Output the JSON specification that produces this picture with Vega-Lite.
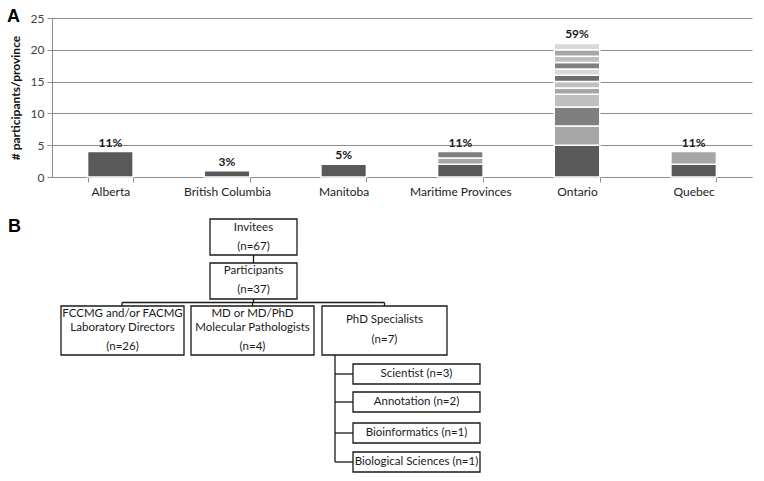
{
  "$schema": "https://vega.github.io/schema/vega-lite/v6.json",
  "background": "white",
  "padding": {"left": 7, "top": 8, "right": 5, "bottom": 0},
  "config": {
    "font": "Lato",
    "view": {"stroke": null},
    "axisY": {
      "values": [0, 5, 10, 15, 20, 25], "tickCount": 6,
      "grid": true, "gridColor": "#8c8c8c", "gridWidth": 1,
      "domainColor": "#8c8c8c", "tickColor": "#8c8c8c", "tickSize": 5,
      "labelFontSize": 12, "labelColor": "#404040", "labelPadding": 3,
      "titleFontWeight": "bold", "titleFontSize": 12, "titleColor": "#111111", "titlePadding": 8
    }
  },
  "spacing": 23,
  "bounds": "flush",
  "resolve": {"scale": {"x": "independent", "y": "independent", "color": "independent"}},
  "datasets": {
    "participants": [
      {"province": "Alberta", "site": 1, "n": 4, "pct": "11%"},
      {"province": "British Columbia", "site": 1, "n": 1, "pct": "3%"},
      {"province": "Manitoba", "site": 1, "n": 2, "pct": "5%"},
      {"province": "Maritime Provinces", "site": 1, "n": 2, "pct": "11%"},
      {"province": "Maritime Provinces", "site": 2, "n": 1, "pct": "11%"},
      {"province": "Maritime Provinces", "site": 3, "n": 1, "pct": "11%"},
      {"province": "Ontario", "site": 1, "n": 5, "pct": "59%"},
      {"province": "Ontario", "site": 2, "n": 3, "pct": "59%"},
      {"province": "Ontario", "site": 3, "n": 3, "pct": "59%"},
      {"province": "Ontario", "site": 4, "n": 2, "pct": "59%"},
      {"province": "Ontario", "site": 5, "n": 1, "pct": "59%"},
      {"province": "Ontario", "site": 6, "n": 1, "pct": "59%"},
      {"province": "Ontario", "site": 7, "n": 1, "pct": "59%"},
      {"province": "Ontario", "site": 8, "n": 1, "pct": "59%"},
      {"province": "Ontario", "site": 9, "n": 1, "pct": "59%"},
      {"province": "Ontario", "site": 10, "n": 1, "pct": "59%"},
      {"province": "Ontario", "site": 11, "n": 1, "pct": "59%"},
      {"province": "Ontario", "site": 12, "n": 1, "pct": "59%"},
      {"province": "Quebec", "site": 1, "n": 2, "pct": "11%"},
      {"province": "Quebec", "site": 2, "n": 2, "pct": "11%"}
    ],
    "boxes": [
      {"node": "Invitees", "x": 210, "x2": 297, "y": 219, "y2": 255},
      {"node": "Participants", "x": 210, "x2": 297, "y": 263, "y2": 299},
      {"node": "FCCMG", "x": 61, "x2": 184, "y": 306, "y2": 355},
      {"node": "MD", "x": 191, "x2": 314, "y": 306, "y2": 355},
      {"node": "PhD", "x": 322, "x2": 447, "y": 306, "y2": 355},
      {"node": "Scientist", "x": 353, "x2": 480, "y": 364, "y2": 384},
      {"node": "Annotation", "x": 353, "x2": 480, "y": 392, "y2": 412},
      {"node": "Bioinformatics", "x": 353, "x2": 480, "y": 423, "y2": 443},
      {"node": "Biological Sciences", "x": 353, "x2": 480, "y": 452, "y2": 472}
    ],
    "links": [
      {"x": 253.5, "x2": 253.5, "y": 255, "y2": 263},
      {"x": 253.5, "x2": 253.5, "y": 299, "y2": 302.5},
      {"x": 122, "x2": 384.5, "y": 302.5, "y2": 302.5},
      {"x": 122, "x2": 122, "y": 302.5, "y2": 306},
      {"x": 252.5, "x2": 252.5, "y": 302.5, "y2": 306},
      {"x": 384.5, "x2": 384.5, "y": 302.5, "y2": 306},
      {"x": 335, "x2": 335, "y": 355, "y2": 462},
      {"x": 335, "x2": 353, "y": 374, "y2": 374},
      {"x": 335, "x2": 353, "y": 402, "y2": 402},
      {"x": 335, "x2": 353, "y": 433, "y2": 433},
      {"x": 335, "x2": 353, "y": 462, "y2": 462}
    ],
    "boxText": [
      {"text": "Invitees", "x": 253.5, "y": 228},
      {"text": "(n=67)", "x": 253.5, "y": 247},
      {"text": "Participants", "x": 253.5, "y": 271},
      {"text": "(n=37)", "x": 253.5, "y": 289.5},
      {"text": "FCCMG and/or FACMG", "x": 122.5, "y": 314},
      {"text": "Laboratory Directors", "x": 122.5, "y": 327.5},
      {"text": "(n=26)", "x": 122.5, "y": 347},
      {"text": "MD or MD/PhD", "x": 252.5, "y": 314},
      {"text": "Molecular Pathologists", "x": 252.5, "y": 327.5},
      {"text": "(n=4)", "x": 252.5, "y": 347},
      {"text": "PhD Specialists", "x": 384.5, "y": 320},
      {"text": "(n=7)", "x": 384.5, "y": 340},
      {"text": "Scientist (n=3)", "x": 416.5, "y": 374},
      {"text": "Annotation (n=2)", "x": 416.5, "y": 402},
      {"text": "Bioinformatics (n=1)", "x": 416.5, "y": 433},
      {"text": "Biological Sciences (n=1)", "x": 416.5, "y": 462}
    ],
    "panels": [
      {"text": "A", "x": 7, "y": 22},
      {"text": "B", "x": 8, "y": 231.5}
    ]
  },
  "vconcat": [
    {
      "width": 700,
      "height": 159,
      "data": {"name": "participants"},
      "encoding": {
        "x": {
          "field": "province", "type": "nominal",
          "sort": ["Alberta", "British Columbia", "Manitoba", "Maritime Provinces", "Ontario", "Quebec"],
          "scale": {"paddingInner": 0.61, "paddingOuter": 0.305},
          "axis": {
            "title": null, "tickBand": "extent", "labelAngle": 0,
            "labelFontSize": 12, "labelColor": "#222222", "labelPadding": 4,
            "domainColor": "#8c8c8c", "tickColor": "#8c8c8c", "tickSize": 5, "grid": false
          }
        }
      },
      "layer": [
        {
          "mark": {"type": "bar", "stroke": "white", "strokeWidth": 1.5},
          "encoding": {
            "y": {
              "field": "n", "type": "quantitative", "stack": "zero",
              "scale": {"domain": [0, 25], "nice": false},
              "axis": {"title": "# participants/province", "values": [0, 5, 10, 15, 20, 25], "tickCount": 6}
            },
            "color": {
              "field": "site", "type": "ordinal",
              "scale": {
                "domain": [1, 2, 3, 4, 5, 6, 7, 8, 9, 10, 11, 12],
                "range": ["#595959", "#a6a6a6", "#7f7f7f", "#bfbfbf", "#a6a6a6", "#bfbfbf", "#6e6e6e", "#d9d9d9", "#7f7f7f", "#bfbfbf", "#a6a6a6", "#d9d9d9"]
              },
              "legend": null
            },
            "order": {"field": "site", "type": "quantitative"}
          }
        },
        {
          "transform": [
            {"aggregate": [{"op": "sum", "field": "n", "as": "total"}], "groupby": ["province", "pct"]}
          ],
          "mark": {"type": "text", "baseline": "bottom", "dy": -2, "fontWeight": "bold", "fontSize": 12, "color": "#1a1a1a"},
          "encoding": {
            "y": {"field": "total", "type": "quantitative", "axis": {"title": "# participants/province", "values": [0, 5, 10, 15, 20, 25], "tickCount": 6}},
            "text": {"field": "pct", "type": "nominal"}
          }
        }
      ]
    },
    {
      "width": 700,
      "height": 280,
      "layer": [
        {
          "data": {"name": "links"},
          "mark": {"type": "rule", "color": "#1a1a1a", "strokeWidth": 1.3},
          "encoding": {
            "x": {"field": "x", "type": "quantitative", "scale": {"domain": [52, 752], "nice": false, "zero": false}, "axis": null},
            "x2": {"field": "x2"},
            "y": {"field": "y", "type": "quantitative", "scale": {"domain": [200, 480], "nice": false, "zero": false, "reverse": true}, "axis": null},
            "y2": {"field": "y2"}
          }
        },
        {
          "data": {"name": "boxes"},
          "mark": {"type": "rect", "fill": "white", "stroke": "#1a1a1a", "strokeWidth": 1.3},
          "encoding": {
            "x": {"field": "x", "type": "quantitative"},
            "x2": {"field": "x2"},
            "y": {"field": "y", "type": "quantitative"},
            "y2": {"field": "y2"}
          }
        },
        {
          "data": {"name": "boxText"},
          "mark": {"type": "text", "fontSize": 11.5, "color": "#1a1a1a", "baseline": "middle", "align": "center"},
          "encoding": {
            "x": {"field": "x", "type": "quantitative"},
            "y": {"field": "y", "type": "quantitative"},
            "text": {"field": "text", "type": "nominal"}
          }
        },
        {
          "data": {"name": "panels"},
          "mark": {"type": "text", "font": "Liberation Sans", "fontSize": 18, "fontWeight": "bold", "color": "#000000", "align": "left", "baseline": "alphabetic"},
          "encoding": {
            "x": {"field": "x", "type": "quantitative"},
            "y": {"field": "y", "type": "quantitative"},
            "text": {"field": "text", "type": "nominal"}
          }
        }
      ]
    }
  ]
}
